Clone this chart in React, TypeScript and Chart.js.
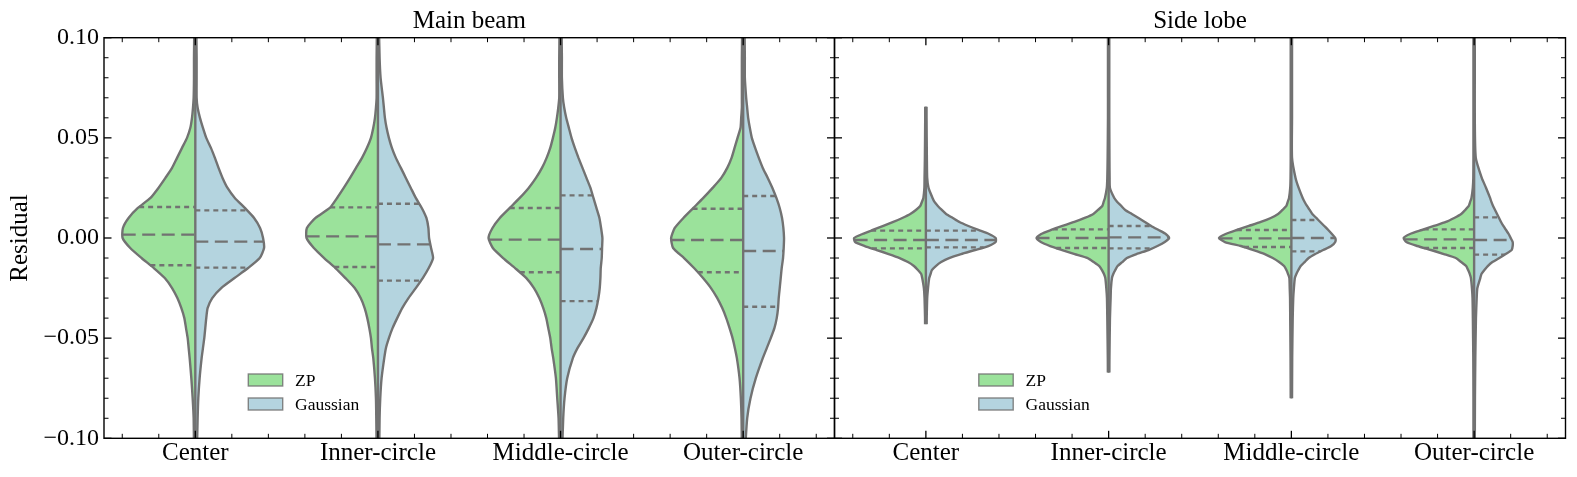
import React, { useEffect, useRef } from "react";
import { Chart, registerables } from "chart.js";

Chart.register(...registerables);
Chart.defaults.font.family = '"Liberation Serif", "Times New Roman", serif';
Chart.defaults.color = "#000";

// ---------------- data ----------------
const CATEGORIES = ["Center", "Inner-circle", "Middle-circle", "Outer-circle"];
const PANEL_TITLES = ["Main beam", "Side lobe"];
const SERIES = ["ZP", "Gaussian"];
const Y_TICKS = [-0.1, -0.05, 0, 0.05, 0.1];

// Main beam: residual grid and relative density (violin half-width units, max ≈ 220)
const MAIN_GRID = [0.105, 0.09, 0.08, 0.07, 0.065, 0.06, 0.055, 0.05, 0.045, 0.04, 0.035, 0.03, 0.025, 0.02, 0.015, 0.01, 0.005, 0, -0.005, -0.01, -0.015, -0.02, -0.025, -0.03, -0.035, -0.04, -0.045, -0.05, -0.055, -0.06, -0.07, -0.08, -0.09, -0.105];
const MAIN_CENTER_ZP = [3, 4, 4, 5, 7, 10, 15, 25, 40, 55, 70, 90, 111, 135, 173, 201, 218, 219, 196, 162, 125, 92, 70, 54, 42, 33, 28, 23, 20, 17, 12, 8, 5, 4];
const MAIN_CENTER_GA = [3, 4, 4, 4, 7, 14, 23, 33, 47, 59, 70, 82, 97, 119, 149, 177, 195, 204, 207, 194, 159, 118, 78, 51, 37, 33, 30, 27, 23, 19, 13, 9, 7, 5];
const MAIN_INNER_ZP = [3, 4, 4, 4, 6, 9, 14, 21, 33, 48, 66, 84, 103, 123, 145, 188, 214, 215, 193, 162, 128, 98, 70, 52, 40, 32, 26, 21, 18, 14, 9, 6, 5, 4];
const MAIN_INNER_GA = [3, 5, 8, 15, 18, 21, 26, 33, 42, 54, 69, 84, 99, 114, 132, 146, 152, 154, 160, 166, 153, 135, 114, 92, 73, 58, 44, 33, 24, 19, 11, 7, 5, 4];
const MAIN_MIDDLE_ZP = [3, 4, 4, 4, 7, 11, 16, 23, 31, 42, 56, 74, 96, 123, 153, 183, 205, 217, 204, 173, 137, 103, 80, 64, 52, 43, 37, 31, 27, 22, 14, 10, 6, 4];
const MAIN_MIDDLE_GA = [3, 4, 4, 7, 11, 17, 25, 33, 43, 54, 66, 78, 90, 99, 108, 117, 122, 126, 125, 124, 121, 120, 118, 114, 108, 99, 85, 69, 51, 37, 20, 12, 8, 5];
const MAIN_OUTER_ZP = [3, 4, 4, 4, 4, 6, 8, 17, 26, 35, 48, 66, 92, 120, 150, 180, 206, 217, 211, 178, 148, 121, 97, 78, 63, 51, 41, 32, 25, 19, 11, 7, 5, 4];
const MAIN_OUTER_GA = [4, 5, 5, 9, 12, 15, 20, 26, 36, 47, 59, 74, 88, 100, 110, 117, 121, 123, 122, 120, 116, 113, 110, 107, 105, 101, 94, 83, 71, 59, 38, 22, 12, 6];
const MAIN_TOP = [0.105, 0.105, 0.105, 0.105];
const MAIN_BOTTOM = [-0.105, -0.105, -0.105, -0.105];
const MAIN_ZP_Q3 = [0.0155, 0.0153, 0.015, 0.0146];
const MAIN_ZP_MED = [0.0017, 0.0008, -0.0008, -0.001];
const MAIN_ZP_Q1 = [-0.0136, -0.0145, -0.0171, -0.0171];
const MAIN_GA_Q3 = [0.0138, 0.0171, 0.0213, 0.021];
const MAIN_GA_MED = [-0.0018, -0.0032, -0.0055, -0.0065];
const MAIN_GA_Q1 = [-0.0148, -0.0213, -0.0315, -0.0343];

// Side lobe
const SIDE_GRID = [0.105, 0.08, 0.06, 0.04, 0.03, 0.025, 0.02, 0.018, 0.016, 0.014, 0.012, 0.01, 0.008, 0.006, 0.004, 0.002, 0, -0.002, -0.004, -0.006, -0.008, -0.01, -0.012, -0.014, -0.016, -0.018, -0.02, -0.025, -0.03, -0.04, -0.06, -0.08, -0.105];
const SIDE_CENTER_ZP = [2, 2, 2, 3, 4, 4.5, 7.5, 12, 17, 30, 47, 71, 98, 128, 160, 191, 216, 213, 184, 148, 112, 79, 54, 36, 24, 14, 11, 6, 4, 2.5, 2, 2, 2];
const SIDE_CENTER_GA = [2, 2, 2, 3, 4, 8, 20, 26, 36, 48, 61, 81, 101, 128, 158, 190, 210, 210, 188, 148, 106, 70, 46, 30, 18, 14, 10, 6.5, 4, 2.5, 2, 2, 2];
const SIDE_INNER_ZP = [2, 2, 2, 3, 4, 5.5, 11, 15, 19, 32, 46, 72, 103, 139, 173, 203, 217, 204, 176, 140, 102, 63, 45, 28, 20, 14, 10, 7, 5, 4, 2.5, 2, 2];
const SIDE_INNER_GA = [2, 2, 2, 2.5, 3, 4, 17, 26, 38, 50, 70, 90, 109, 128, 150, 172, 182, 169, 147, 120, 84, 55, 41, 27, 20, 14, 10, 7, 6, 4, 2.5, 2, 2];
const SIDE_MIDDLE_ZP = [2, 2, 2, 2, 2.5, 3.5, 7, 11, 15, 27, 40, 62, 92, 128, 164, 198, 218, 200, 152, 114, 80, 56, 37, 22, 15, 10, 6, 5, 4, 3.5, 2.5, 2, 2];
const SIDE_MIDDLE_GA = [2, 2, 2, 2, 12.5, 22, 34, 40, 47, 55, 63, 75, 87, 99, 111, 122, 132, 132, 120, 96, 72, 52, 40, 28, 21, 15, 10.5, 7.6, 5.6, 4, 2.5, 2, 2];
const SIDE_OUTER_ZP = [2, 2, 2, 2, 2.5, 4, 8, 12, 16, 27, 39, 60, 85, 121, 157, 193, 212, 204, 171, 130, 91, 55, 39, 24, 18, 13, 9.6, 6.6, 4.8, 3.8, 2.5, 2, 2];
const SIDE_OUTER_GA = [2, 2, 2, 5, 23, 36, 48, 52, 57, 63, 69, 75, 81, 88, 96, 104, 110, 116, 116, 113, 95, 76, 55, 41, 31, 22, 18.5, 9.7, 7.7, 5.5, 3.6, 2.5, 2];
const SIDE_TOP = [0.0655, 0.105, 0.105, 0.105];
const SIDE_BOTTOM = [-0.043, -0.0672, -0.08, -0.105];
const SIDE_ZP_Q3 = [0.0037, 0.0043, 0.004, 0.0043];
const SIDE_ZP_MED = [-0.001, 0.0, -0.0002, -0.0007];
const SIDE_ZP_Q1 = [-0.0052, -0.005, -0.0045, -0.005];
const SIDE_GA_Q3 = [0.0037, 0.006, 0.009, 0.0103];
const SIDE_GA_MED = [-0.001, 0.0003, 0.0, -0.001];
const SIDE_GA_Q1 = [-0.0047, -0.0052, -0.0067, -0.0083];

// ---------------- styles ----------------
const GREEN = "#9be29b";
const BLUE = "#b4d4df";
const EDGE = "#727272";
const LINE_W = 2.4;
const K = 0.4 / 220; // density unit -> half-width in category units

type Pt = { x: number; y: number };

interface Panel {
  title: string;
  grid: number[];
  zp: number[][];
  ga: number[][];
  top: number[];
  bottom: number[];
  zpQ: number[][];
  gaQ: number[][];
}

const PANELS: Panel[] = [
  {
    title: PANEL_TITLES[0],
    grid: MAIN_GRID,
    zp: [MAIN_CENTER_ZP, MAIN_INNER_ZP, MAIN_MIDDLE_ZP, MAIN_OUTER_ZP],
    ga: [MAIN_CENTER_GA, MAIN_INNER_GA, MAIN_MIDDLE_GA, MAIN_OUTER_GA],
    top: MAIN_TOP,
    bottom: MAIN_BOTTOM,
    zpQ: [MAIN_ZP_Q3, MAIN_ZP_MED, MAIN_ZP_Q1],
    gaQ: [MAIN_GA_Q3, MAIN_GA_MED, MAIN_GA_Q1],
  },
  {
    title: PANEL_TITLES[1],
    grid: SIDE_GRID,
    zp: [SIDE_CENTER_ZP, SIDE_INNER_ZP, SIDE_MIDDLE_ZP, SIDE_OUTER_ZP],
    ga: [SIDE_CENTER_GA, SIDE_INNER_GA, SIDE_MIDDLE_GA, SIDE_OUTER_GA],
    top: SIDE_TOP,
    bottom: SIDE_BOTTOM,
    zpQ: [SIDE_ZP_Q3, SIDE_ZP_MED, SIDE_ZP_Q1],
    gaQ: [SIDE_GA_Q3, SIDE_GA_MED, SIDE_GA_Q1],
  },
];

function densityAt(grid: number[], dens: number[], y: number): number {
  if (y >= grid[0]) return dens[0];
  for (let i = 1; i < grid.length; i++) {
    if (y >= grid[i]) {
      const t = (grid[i - 1] - y) / (grid[i - 1] - grid[i]);
      return dens[i - 1] + t * (dens[i] - dens[i - 1]);
    }
  }
  return dens[dens.length - 1];
}

function halfOutline(grid: number[], dens: number[], cat: number, side: number, yTop: number, yBottom: number): Pt[] {
  const pts: Pt[] = [{ x: cat + side * densityAt(grid, dens, yTop) * K, y: yTop }];
  grid.forEach((g, i) => {
    if (g < yTop - 1e-9 && g > yBottom + 1e-9) pts.push({ x: cat + side * dens[i] * K, y: g });
  });
  pts.push({ x: cat + side * densityAt(grid, dens, yBottom) * K, y: yBottom });
  return pts;
}

function buildDatasets(p: Panel) {
  const ds: any[] = [];
  CATEGORIES.forEach((_, c) => {
    const halves: [number[], number, string, number[][]][] = [
      [p.zp[c], -1, GREEN, p.zpQ],
      [p.ga[c], 1, BLUE, p.gaQ],
    ];
    halves.forEach(([dens, side, color, q]) => {
      ds.push({
        data: halfOutline(p.grid, dens, c, side, p.top[c], p.bottom[c]),
        borderColor: EDGE,
        borderWidth: LINE_W,
        borderJoinStyle: "round",
        backgroundColor: color,
        fill: { value: c },
        tension: 0.2,
        pointRadius: 0,
        order: 3,
        clip: 0,
      });
      q.forEach((qs, k) => {
        const y = qs[c];
        const w = densityAt(p.grid, dens, y) * K;
        const ends = side < 0 ? [{ x: c - w, y }, { x: c, y }] : [{ x: c, y }, { x: c + w, y }];
        ds.push({
          data: ends,
          borderColor: EDGE,
          borderWidth: LINE_W,
          borderDash: k === 1 ? [13, 6.5] : [5, 4],
          fill: false,
          tension: 0,
          pointRadius: 0,
          order: 1,
          clip: 0,
        });
      });
    });
    ds.push({
      data: [{ x: c, y: p.top[c] }, { x: c, y: p.bottom[c] }],
      borderColor: EDGE,
      borderWidth: LINE_W,
      fill: false,
      pointRadius: 0,
      order: 2,
      clip: 0,
    });
  });
  return ds;
}

function framePlugin(title: string) {
  return {
    id: "frameTicksLegend",
    afterDraw(chart: any) {
      const { ctx, chartArea: a, scales } = chart;
      const xs = scales.x;
      const ys = scales.y;
      ctx.save();
      ctx.strokeStyle = "#000";
      const seg = (x1: number, y1: number, x2: number, y2: number) => {
        ctx.beginPath();
        ctx.moveTo(x1, y1);
        ctx.lineTo(x2, y2);
        ctx.stroke();
      };
      for (let k = -10; k <= 10; k++) {
        const py = ys.getPixelForValue(k / 100);
        const major = k % 5 === 0;
        const len = major ? 7.5 : 4.5;
        ctx.lineWidth = major ? 1.3 : 1;
        seg(a.left, py, a.left + len, py);
        seg(a.right, py, a.right - len, py);
      }
      for (let m = -2; m <= 17; m++) {
        const px = xs.getPixelForValue(m / 5);
        const major = m % 5 === 0;
        const len = major ? 7.5 : 4.5;
        ctx.lineWidth = major ? 1.3 : 1;
        seg(px, a.bottom, px, a.bottom - len);
        seg(px, a.top, px, a.top + len);
      }
      ctx.lineWidth = 1.4;
      ctx.strokeRect(a.left, a.top, a.right - a.left, a.bottom - a.top);
      ctx.fillStyle = "#000";
      ctx.font = '25px "Liberation Serif"';
      ctx.textAlign = "center";
      ctx.textBaseline = "alphabetic";
      ctx.fillText(title, (a.left + a.right) / 2, a.top - 9.4);
      const lx = a.left + 144.3;
      const rows = [a.bottom - 58.3, a.bottom - 34.3];
      const colors = [GREEN, BLUE];
      ctx.font = '17.5px "Liberation Serif"';
      ctx.textAlign = "left";
      rows.forEach((cy, i) => {
        ctx.fillStyle = colors[i];
        ctx.fillRect(lx, cy - 6, 34.4, 12);
        ctx.strokeStyle = "rgba(114,114,114,0.85)";
        ctx.lineWidth = 1.4;
        ctx.strokeRect(lx, cy - 6, 34.4, 12);
        ctx.fillStyle = "#000";
        ctx.fillText(SERIES[i], lx + 46.7, cy + 6);
      });
      ctx.restore();
    },
  };
}

function makeConfig(p: Panel, showY: boolean, padding: any): any {
  return {
    type: "line",
    data: { datasets: buildDatasets(p) },
    options: {
      animation: false,
      responsive: false,
      maintainAspectRatio: false,
      indexAxis: "y",
      events: [],
      layout: { padding },
      plugins: { legend: { display: false }, tooltip: { enabled: false }, title: { display: false } },
      scales: {
        x: {
          type: "linear",
          min: -0.5,
          max: 3.5,
          grid: { display: false, drawTicks: false },
          border: { display: false },
          afterBuildTicks: (s: any) => {
            s.ticks = CATEGORIES.map((_, i) => ({ value: i }));
          },
          afterFit: (s: any) => {
            s.height = 38.7;
          },
          ticks: {
            autoSkip: false,
            maxRotation: 0,
            padding: 0,
            color: "#000",
            font: { size: 25 },
            callback: (v: any) => CATEGORIES[Math.round(Number(v))],
          },
        },
        y: {
          type: "linear",
          min: -0.1,
          max: 0.1,
          display: showY,
          grid: { display: false, drawTicks: false },
          border: { display: false },
          afterBuildTicks: (s: any) => {
            s.ticks = Y_TICKS.map((v) => ({ value: v }));
          },
          afterFit: (s: any) => {
            s.width = showY ? 104 : 0;
          },
          title: {
            display: showY,
            text: "Residual",
            color: "#000",
            font: { size: 25 },
            padding: { top: 5, bottom: 0 },
          },
          ticks: {
            padding: 5,
            color: "#000",
            font: { size: 24 },
            callback: (v: any) => {
              const n = Number(v);
              const s = Math.abs(n).toFixed(2);
              return n < -1e-9 ? "\u2212" + s : s;
            },
          },
        },
      },
    },
    plugins: [framePlugin(p.title)],
  };
}

export default function App() {
  const leftRef = useRef<HTMLCanvasElement>(null);
  const rightRef = useRef<HTMLCanvasElement>(null);

  useEffect(() => {
    const charts: Chart[] = [];
    if (leftRef.current) {
      charts.push(new Chart(leftRef.current, makeConfig(PANELS[0], true, { left: 0, top: 37.7, right: 5.5, bottom: 0 })));
    }
    if (rightRef.current) {
      charts.push(new Chart(rightRef.current, makeConfig(PANELS[1], false, { left: 4.5, top: 37.7, right: 11.5, bottom: 0 })));
    }
    return () => charts.forEach((c) => c.destroy());
  }, []);

  return (
    <div style={{ position: "fixed", left: 0, top: 0, width: 1577, height: 477, background: "#fff", overflow: "hidden" }}>
      <canvas ref={leftRef} width={840} height={477} style={{ position: "absolute", left: 0, top: 0, width: 840, height: 477 }} />
      <canvas ref={rightRef} width={747} height={477} style={{ position: "absolute", left: 830, top: 0, width: 747, height: 477 }} />
    </div>
  );
}
